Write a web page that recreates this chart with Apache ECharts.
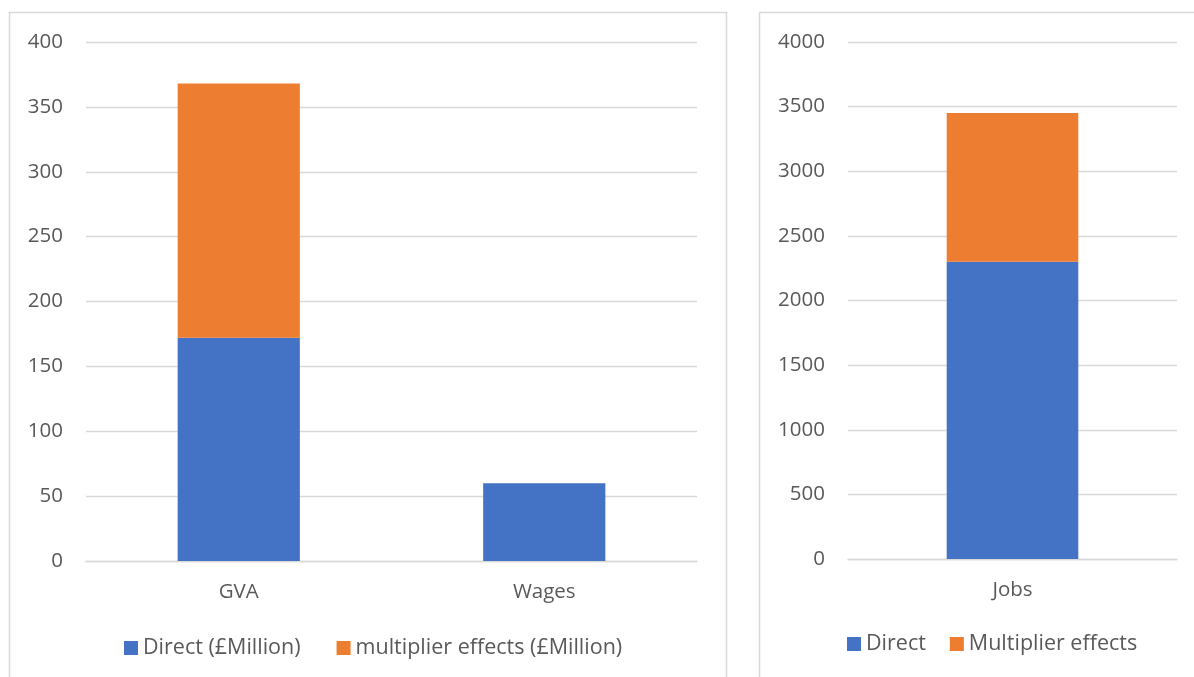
<!DOCTYPE html>
<html>
<head>
<meta charset="utf-8">
<script src="https://cdn.jsdelivr.net/npm/echarts@6/dist/echarts.min.js"></script>
<style>
  html, body { margin: 0; padding: 0; background: #fff; }
  #chart { width: 1194px; height: 677px; }
</style>
</head>
<body>
<div id="chart"></div>
<script>
// left panel: £Million
const moneyCategories = ['GVA', 'Wages']
const moneyDirect = [172, 60]
const moneyMultiplier = [196, 0]
const moneyNames = ['Direct (£Million)', 'multiplier effects (£Million)']

// right panel: jobs
const jobsCategories = ['Jobs']
const jobsDirect = [2300]
const jobsMultiplier = [1150]
const jobsNames = ['Direct', 'Multiplier effects']

const blue = '#4472C4'
const orange = '#ED7D31'
const gridColor = '#d9d9d9'
const textColor = '#595959'
const font = 'Open Sans'
const fontSize = 20.5

const chart = echarts.init(document.getElementById('chart'))

function yAxis (gridIndex, max, interval) {
  return {
    type: 'value',
    gridIndex: gridIndex,
    min: 0,
    max: max,
    interval: interval,
    axisLine: { show: false },
    axisTick: { show: false },
    axisLabel: {
      color: textColor,
      fontSize: fontSize,
      fontFamily: font,
      margin: 23,
      formatter: function (v) { return String(v) }
    },
    splitLine: { lineStyle: { color: gridColor, width: 1.3 } }
  }
}

function xAxis (gridIndex, data) {
  return {
    type: 'category',
    gridIndex: gridIndex,
    data: data,
    axisLine: { lineStyle: { color: gridColor, width: 1.3 } },
    axisTick: { show: false },
    axisLabel: { color: textColor, fontSize: fontSize, fontFamily: font, margin: 21 }
  }
}

function bar (name, data, color, axisIndex) {
  return {
    type: 'bar',
    name: name,
    data: data,
    stack: 'total' + axisIndex,
    xAxisIndex: axisIndex,
    yAxisIndex: axisIndex,
    barWidth: '40%',
    itemStyle: { color: color },
    emphasis: { disabled: true }
  }
}

const legendText = { color: textColor, fontSize: 21.5, fontFamily: font }

const option = {
  animation: false,
  backgroundColor: '#fff',
  graphic: [
    { type: 'rect', shape: { x: 9.5, y: 12.5, width: 717, height: 700 },
      style: { fill: 'none', stroke: gridColor, lineWidth: 1.5 }, z: -1 },
    { type: 'rect', shape: { x: 759.5, y: 12.5, width: 500, height: 700 },
      style: { fill: 'none', stroke: gridColor, lineWidth: 1.5 }, z: -1 }
  ],
  grid: [
    { left: 86, right: 497, top: 42, bottom: 116 },
    { left: 848, right: 17, top: 42, bottom: 118 }
  ],
  xAxis: [xAxis(0, moneyCategories), xAxis(1, jobsCategories)],
  yAxis: [yAxis(0, 400, 50), yAxis(1, 4000, 500)],
  legend: [
    {
      data: moneyNames,
      left: 119,
      top: 632,
      itemWidth: 14,
      itemHeight: 14,
      itemGap: 36,
      icon: 'rect',
      textStyle: legendText
    },
    {
      data: jobsNames,
      left: 842,
      top: 628,
      itemWidth: 14,
      itemHeight: 14,
      itemGap: 24,
      icon: 'rect',
      textStyle: legendText
    }
  ],
  series: [
    bar(moneyNames[0], moneyDirect, blue, 0),
    bar(moneyNames[1], moneyMultiplier, orange, 0),
    bar(jobsNames[0], jobsDirect, blue, 1),
    bar(jobsNames[1], jobsMultiplier, orange, 1)
  ]
}

chart.setOption(option)
</script>
</body>
</html>
